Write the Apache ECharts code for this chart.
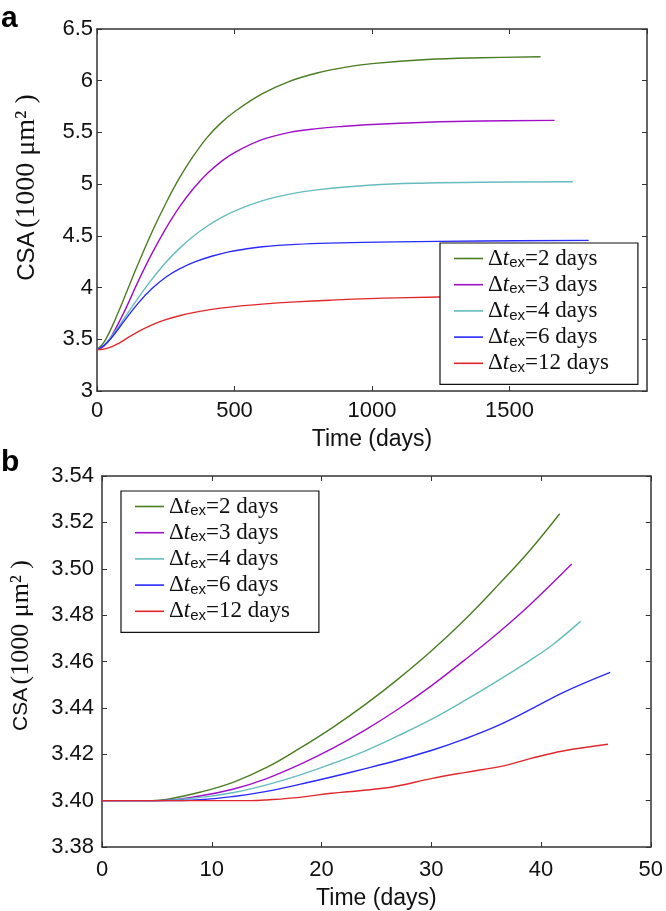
<!DOCTYPE html>
<html><head><meta charset="utf-8">
<script src="https://cdn.jsdelivr.net/npm/echarts@6/dist/echarts.min.js"></script>
<style>html,body{margin:0;padding:0;background:#fff}#c{width:666px;height:911px}</style>
</head><body><div id="c"></div>
<script>
// ---- data ----
const seriesNames = ['2 days', '3 days', '4 days', '6 days', '12 days'];
const seriesColors = ['#4b7d23', '#a010c8', '#66bcbc', '#2a2aff', '#e0282c'];

// Panel a: [time (days), CSA (1000 µm²)]
const a_2days = [[0,3.4],[25,3.47],[50,3.596],[75,3.746],[100,3.907],[150,4.232],[200,4.538],[250,4.813],[300,5.06],[350,5.27],[400,5.45],[450,5.59],[500,5.7],[600,5.872],[700,5.994],[800,6.075],[900,6.129],[1000,6.165],[1200,6.205],[1400,6.222],[1613,6.231]];
const a_3days = [[0,3.4],[25,3.434],[50,3.519],[100,3.772],[150,4.062],[200,4.33],[250,4.57],[300,4.78],[350,4.955],[400,5.1],[450,5.215],[500,5.305],[600,5.43],[700,5.5],[800,5.537],[900,5.56],[1000,5.577],[1200,5.598],[1400,5.61],[1664,5.617]];
const a_4days = [[0,3.4],[25,3.443],[50,3.519],[100,3.707],[150,3.901],[200,4.081],[250,4.242],[300,4.379],[350,4.496],[400,4.593],[450,4.674],[500,4.74],[600,4.838],[700,4.903],[800,4.945],[1000,4.992],[1200,5.011],[1400,5.019],[1730,5.023]];
const a_6days = [[0,3.4],[25,3.44],[50,3.505],[100,3.68],[150,3.85],[200,3.99],[250,4.1],[300,4.18],[358,4.25],[420,4.305],[479,4.345],[540,4.373],[601,4.395],[723,4.418],[844,4.43],[1088,4.442],[1400,4.45],[1788,4.456]];
const a_12days = [[0,3.4],[25,3.405],[50,3.425],[75,3.455],[100,3.495],[150,3.575],[200,3.64],[250,3.69],[300,3.728],[350,3.758],[400,3.782],[450,3.801],[500,3.816],[600,3.84],[723,3.862],[844,3.878],[1088,3.9],[1400,3.914],[1850,3.922]];

// Panel b
const b_2days = [[0,3.4],[4.5,3.4],[6,3.4006],[9,3.4037],[12,3.408],[15,3.4143],[18,3.4225],[21,3.4315],[24,3.4415],[27,3.4525],[30,3.4645],[33,3.4778],[36,3.4925],[39,3.508],[41.7,3.5237]];
const b_3days = [[0,3.4],[5,3.4],[9,3.4021],[12,3.405],[15,3.4095],[18,3.4155],[21,3.4225],[24,3.4305],[27,3.4395],[30,3.4495],[33,3.4605],[36,3.472],[39,3.4845],[42.8,3.502]];
const b_4days = [[0,3.4],[5,3.4],[9,3.4014],[12,3.4035],[15,3.4068],[18,3.411],[21,3.416],[24,3.4215],[27,3.428],[30,3.435],[33,3.443],[36,3.4515],[39,3.4605],[41,3.467],[43.6,3.4773]];
const b_6days = [[0,3.4],[5,3.4],[9,3.4004],[12,3.4018],[15,3.404],[18,3.407],[21,3.4103],[24,3.4138],[27,3.4175],[30,3.4216],[33,3.4265],[36,3.4322],[39,3.4392],[42,3.4466],[46.3,3.4553]];
const b_12days = [[0,3.4],[13.5,3.4],[15,3.4003],[18,3.4014],[20.9,3.4032],[22.4,3.4038],[25.4,3.4052],[26.9,3.4063],[30,3.4095],[33,3.4121],[36.6,3.415],[39,3.4181],[42,3.4214],[46.1,3.4243]];

const panelA = [a_2days, a_3days, a_4days, a_6days, a_12days];
const panelB = [b_2days, b_3days, b_4days, b_6days, b_12days];

// axis ranges / ticks [min, max, interval]
const xAxisA = [0, 2000, 500];
const yAxisA = [3, 6.5, 0.5];
const xAxisB = [0, 50, 10];
const yAxisB = [3.38, 3.54, 0.02];
const xName = 'Time (days)';
const panelLabels = ['a', 'b'];

// ---- chart ----
const SANS = 'Liberation Sans';
const SERIF = 'Liberation Serif';
const frameColor = '#333';

const yName = '{s|CSA} {r|(1000 μm² )}';
function yNameStyle(sansSize, serifSize, shift) {
  return {
    color: '#111',
    rich: {
      s: { fontFamily: SANS, fontSize: sansSize, color: '#111', padding: [0, 0, 0, shift] },
      r: { fontFamily: SERIF, fontSize: serifSize, color: '#111' }
    }
  };
}

function frameAxisCommon() {
  return {
    axisLine: { show: true, onZero: false, lineStyle: { color: frameColor, width: 1.5 } },
    axisTick: { show: true, inside: true, length: 5, lineStyle: { color: frameColor, width: 1 } },
    splitLine: { show: false }
  };
}

function makeX(gridIndex, r, labelMargin, nameGap) {
  return [
    Object.assign(frameAxisCommon(), {
      type: 'value', gridIndex, min: r[0], max: r[1], interval: r[2], position: 'bottom',
      name: xName, nameLocation: 'middle', nameGap,
      nameTextStyle: { fontFamily: SANS, fontSize: 23, color: '#111' },
      axisLabel: { show: true, margin: labelMargin, fontFamily: SANS, fontSize: 22, color: '#111',
        showMaxLabel: gridIndex === 1, formatter: v => String(v) }
    }),
    Object.assign(frameAxisCommon(), {
      type: 'value', gridIndex, min: r[0], max: r[1], interval: r[2], position: 'top',
      axisLabel: { show: false }
    })
  ];
}
function makeY(gridIndex, r, labelMargin, nameGap, decimals, nameStyle) {
  return [
    Object.assign(frameAxisCommon(), {
      type: 'value', gridIndex, min: r[0], max: r[1], interval: r[2], position: 'left',
      name: yName, nameLocation: 'middle', nameRotate: 90, nameGap, nameTextStyle: nameStyle,
      axisLabel: { show: true, margin: labelMargin, fontFamily: SANS, fontSize: 22, color: '#111',
        formatter: v => decimals ? v.toFixed(decimals) : String(+v.toFixed(2)) }
    }),
    Object.assign(frameAxisCommon(), {
      type: 'value', gridIndex, min: r[0], max: r[1], interval: r[2], position: 'right',
      axisLabel: { show: false }
    })
  ];
}

const legendRich = {
  d: { fontFamily: SERIF, fontSize: 23, lineHeight: 24, color: '#111' },
  t: { fontFamily: SERIF, fontSize: 23, fontStyle: 'italic', lineHeight: 24, color: '#111' },
  e: { fontFamily: SANS, fontSize: 15, lineHeight: 11, verticalAlign: 'bottom', color: '#111' },
  r: { fontFamily: SERIF, fontSize: 23, lineHeight: 24, color: '#111' }
};
function makeLegend(left, top) {
  return {
    orient: 'vertical', left, top,
    data: seriesNames,
    icon: 'rect', itemWidth: 29, itemHeight: 1.6, itemGap: 2.7,
    padding: [4, 29, 9, 14],
    backgroundColor: '#fff', borderColor: '#111', borderWidth: 1.2,
    selectedMode: false,
    formatter: n => '{d|Δ}{t|t}{e|ex}{r|=' + n + '}',
    textStyle: { rich: legendRich }
  };
}

const series = [];
[panelA, panelB].forEach((panel, gi) => {
  panel.forEach((data, i) => {
    series.push({
      name: seriesNames[i], type: 'line', xAxisIndex: gi * 2, yAxisIndex: gi * 2,
      data, showSymbol: false, symbol: 'none', smooth: 0.4,
      lineStyle: { color: seriesColors[i], width: 1.4 }, itemStyle: { color: seriesColors[i] },
      emphasis: { disabled: true }, silent: true
    });
  });
});

const option = {
  animation: false,
  backgroundColor: '#fff',
  title: [
    { text: panelLabels[0], left: 1, top: 4, padding: 0, textStyle: { fontFamily: SANS, fontSize: 30, fontWeight: 'bold', color: '#000' } },
    { text: panelLabels[1], left: 1, top: 448, padding: 0, textStyle: { fontFamily: SANS, fontSize: 30, fontWeight: 'bold', color: '#000' } }
  ],
  grid: [
    { left: 97, top: 29, width: 550, height: 362 },
    { left: 100, top: 476, width: 551, height: 372 }
  ],
  xAxis: [...makeX(0, xAxisA, 9, 37), ...makeX(1, xAxisB, 12, 40)],
  yAxis: [...makeY(0, yAxisA, 4, 56, 0, yNameStyle(24, 28, 45)), ...makeY(1, yAxisB, 8, 68, 2, yNameStyle(21, 26, 32))],
  legend: [makeLegend(440, 243), makeLegend(121, 491)],
  series
};
const chart = echarts.init(document.getElementById('c'), null, { renderer: 'canvas' });
chart.setOption(option);
</script>
</body></html>
